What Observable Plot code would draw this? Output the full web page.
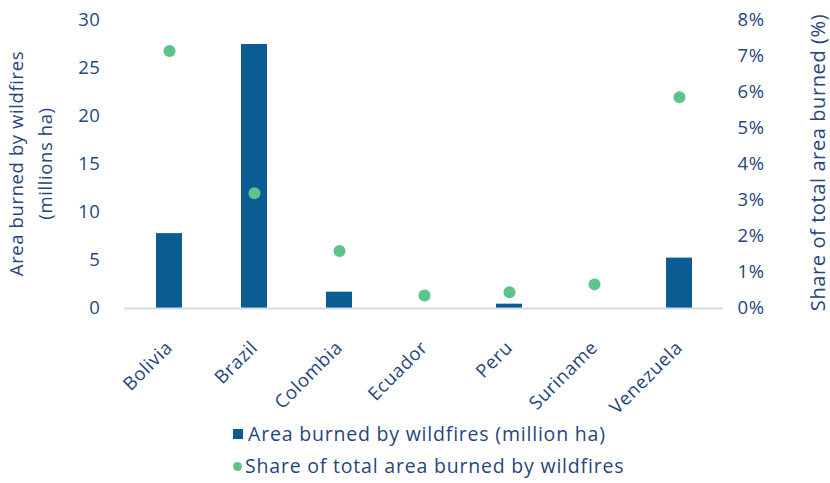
<!DOCTYPE html>
<html>
<head>
<meta charset="utf-8">
<script src="https://cdn.jsdelivr.net/npm/d3@7"></script>
<script src="https://cdn.jsdelivr.net/npm/@observablehq/plot@0.6"></script>
<style>
  html, body { margin: 0; padding: 0; background: #fff; }
  body { position: relative; width: 830px; height: 483px; overflow: hidden; font-family: "Open Sans", sans-serif; color: #27457e; }
  svg text { letter-spacing: 0.6px; }
  .item { position: absolute; left: 233px; display: flex; align-items: center; font-size: 19.5px; line-height: 26px; letter-spacing: 0.8px; white-space: nowrap; }
  .sw-bar { width: 10px; height: 10px; background: #0b5c93; margin-right: 5px; }
  .sw-dot { width: 9px; height: 9px; border-radius: 50%; background: #5cc389; margin-right: 3px; }
</style>
</head>
<body>
<div id="chart"></div>
<div id="legend">
  <div class="item" style="top:421px"><span class="sw-bar"></span><span>Area burned by wildfires (million ha)</span></div>
  <div class="item" style="top:453px"><span class="sw-dot"></span><span>Share of total area burned by wildfires</span></div>
</div>
<script>
// Amazon-basin countries
const countries = ["Bolivia", "Brazil", "Colombia", "Ecuador", "Peru", "Suriname", "Venezuela"];
// Area burned by wildfires, million ha (left axis)
const areaBurned = [7.8, 27.5, 1.7, 0, 0.45, 0, 5.25];
// Share of total area burned, % (right axis)
const shareBurned = [7.15, 3.2, 1.6, 0.36, 0.45, 0.67, 5.87];
// Axis ticks
const leftTicks = [0, 5, 10, 15, 20, 25, 30];
const rightTicks = [0, 1, 2, 3, 4, 5, 6, 7, 8];

const leftMax = 30, rightMax = 8;
const toLeft = v => v * leftMax / rightMax; // map % onto the left-axis domain

const rows = countries.map((c, i) => ({country: c, area: areaBurned[i], share: shareBurned[i]}));

const ink = "#27457e";
const fs = 18.5;

const chart = Plot.plot({
  width: 830,
  height: 420,
  marginLeft: 124,
  marginRight: 107,
  marginTop: 20,
  marginBottom: 112,
  style: {fontFamily: "Open Sans, sans-serif", fontSize: fs + "px", color: ink, background: "transparent"},
  x: {domain: countries, paddingInner: 0.7, paddingOuter: 0.35, label: null},
  y: {domain: [0, leftMax], label: null},
  marks: [
    Plot.axisY(leftTicks, {anchor: "left", tickSize: 0, tickPadding: 24, fontSize: fs, fill: ink, label: null}),
    Plot.axisY(rightTicks, {anchor: "right", y: toLeft, text: d => d + "%", tickSize: 0, tickPadding: 14, fontSize: fs, fill: ink, label: null}),
    Plot.axisX({tickSize: 0, tickRotate: -45, tickPadding: 36, dx: 0, fontSize: fs, fill: ink, label: null}),
    Plot.barY(rows, {x: "country", y: "area", fill: "#0b5c93"}),
    Plot.ruleY([0], {stroke: "#d3dce8", strokeWidth: 2}),
    Plot.dot(rows, {x: "country", y: d => toLeft(d.share), r: 6, fill: "#5cc389", stroke: "none"}),
    Plot.text(["Area burned by wildfires\n(millions ha)"], {frameAnchor: "left", textAnchor: "middle", dx: -96, dy: -1, rotate: -90, fontSize: fs, fill: ink, lineHeight: 1.55}),
    Plot.text(["Share of total area burned (%)"], {frameAnchor: "right", textAnchor: "middle", dx: 95, dy: -2, rotate: -90, fontSize: 20, fill: ink})
  ]
});
document.getElementById("chart").appendChild(chart);
</script>
</body>
</html>
